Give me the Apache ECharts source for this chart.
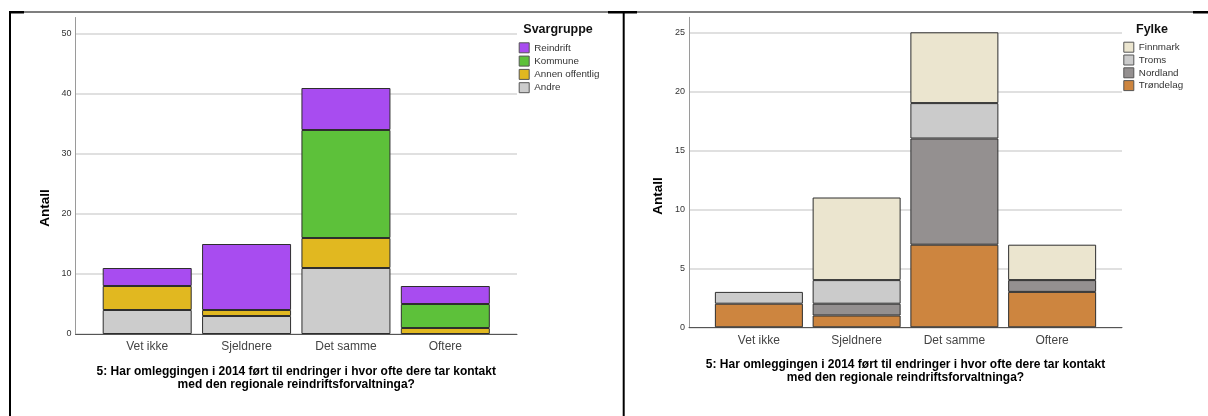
<!DOCTYPE html>
<html><head><meta charset="utf-8">
<script src="https://cdn.jsdelivr.net/npm/echarts@6/dist/echarts.min.js"></script>
<style>html,body{margin:0;padding:0;background:#fff;overflow:hidden}#c{width:1208px;height:416px}</style>
</head><body><div id="c"></div>
<script>
// ---- data ----
const categories = ['Vet ikke', 'Sjeldnere', 'Det samme', 'Oftere'];
const questionText = '5: Har omleggingen i 2014 ført til endringer i hvor ofte dere tar kontakt\nmed den regionale reindriftsforvaltninga?';
const yAxisTitle = 'Antall';

// Left panel: Svargruppe
const leftLegendTitle = 'Svargruppe';
const andre = [4, 3, 11, 0];
const annenOffentlig = [4, 1, 5, 1];
const kommune = [0, 0, 18, 4];
const reindrift = [3, 11, 7, 3];
const leftTickMax = 50, leftTickStep = 10;

// Right panel: Fylke
const rightLegendTitle = 'Fylke';
const trondelag = [2, 1, 7, 3];
const nordland = [0, 1, 9, 1];
const troms = [1, 2, 3, 0];
const finnmark = [0, 7, 6, 3];
const rightTickMax = 25, rightTickStep = 5;

// ---- chart ----
const F = "'Liberation Sans', Arial, Helvetica, sans-serif";
const W = 1208, H = 416;
const nz = a => a.map(v => (v === 0 ? null : v));

const grids = [], xAxes = [], yAxes = [], series = [], legends = [], titles = [], graphics = [];

function panel(p) {
  const gi = grids.length;
  const plotTop = p.y0 - p.tickMax * p.unitPx;
  const fullMax = (p.y0 - p.yTop) / p.unitPx;
  // G1: axis lines, tick labels, x-axis title
  grids.push({left: p.axL, right: W - p.axR, top: p.yTop, bottom: H - p.y0});
  xAxes.push({gridIndex: gi, type: 'value', min: 0, max: 1,
    axisLine: {show: true, lineStyle: {color: '#555', width: 1}},
    axisTick: {show: false}, axisLabel: {show: false}, splitLine: {show: false},
    name: questionText, nameLocation: 'middle', nameGap: p.nameGap,
    nameTextStyle: {fontFamily: F, fontSize: 12, fontWeight: 'bold', color: '#000', lineHeight: 12.6}});
  yAxes.push({gridIndex: gi, type: 'value', min: 0, max: fullMax, interval: p.step,
    axisLine: {show: true, lineStyle: {color: '#9a9a9a', width: 1}},
    axisTick: {show: false}, splitLine: {show: false},
    axisLabel: {fontFamily: F, fontSize: 9, color: '#333', margin: 4,
      formatter: v => (Math.abs(v % p.step) < 1e-6 && v <= p.tickMax ? String(v) : '')}});
  // G2: gridlines
  grids.push({left: p.axL, right: W - p.axR, top: plotTop, bottom: H - p.y0});
  xAxes.push({gridIndex: gi + 1, type: 'value', show: false, min: 0, max: 1});
  yAxes.push({gridIndex: gi + 1, type: 'value', min: 0, max: p.tickMax, interval: p.step,
    axisLine: {show: false}, axisTick: {show: false}, axisLabel: {show: false},
    splitLine: {show: true, lineStyle: {color: '#d6d6d6', width: 1.5}}});
  // G3: bars
  grids.push({left: p.catL, right: W - p.catR, top: plotTop, bottom: H - p.y0});
  xAxes.push({gridIndex: gi + 2, type: 'category', data: categories,
    axisLine: {show: false}, axisTick: {show: false},
    axisLabel: {fontFamily: F, fontSize: 12, color: '#444', margin: 7}});
  yAxes.push({gridIndex: gi + 2, type: 'value', min: 0, max: p.tickMax, show: false});
  p.series.forEach(s => {
    series.push({type: 'bar', name: s.name, stack: p.stack, xAxisIndex: gi + 2, yAxisIndex: gi + 2,
      barWidth: p.barW, data: nz(s.data),
      itemStyle: {color: s.color, borderColor: '#2e2e2e', borderWidth: 1},
      emphasis: {disabled: true}});
  });
  legends.push({data: p.series.map(s => s.name).reverse(), orient: 'vertical',
    left: p.legL, top: p.legT, itemWidth: 10, itemHeight: 10, itemGap: p.legGap,
    icon: 'rect', padding: 0, selectedMode: false,
    itemStyle: {borderColor: '#555', borderWidth: 1},
    textStyle: {fontFamily: F, fontSize: 9.8, color: '#333', lineHeight: 10}});
  titles.push({text: p.legTitle, left: p.legTitleL, top: p.legTitleT, padding: 0,
    textStyle: {fontFamily: F, fontSize: 12.5, fontWeight: 'bold', color: '#111', lineHeight: 14}});
  graphics.push({type: 'text', x: p.antX, y: p.antY, rotation: Math.PI / 2,
    style: {text: yAxisTitle, font: 'bold 13.5px ' + F, fill: '#000', textAlign: 'center', textVerticalAlign: 'middle'}});
}

panel({axL: 75.5, axR: 517, y0: 334, yTop: 17.5, unitPx: 6, tickMax: leftTickMax, step: leftTickStep,
  catL: 97.5, catR: 495, barW: 89, stack: 'L', nameGap: 31.5,
  legL: 518.7, legT: 42.3, legGap: 2.3, legTitle: leftLegendTitle, legTitleL: 523.3, legTitleT: 22.8,
  antX: 45.5, antY: 208,
  series: [
    {name: 'Andre', data: andre, color: '#cccccc'},
    {name: 'Annen offentlig', data: annenOffentlig, color: '#e1b820'},
    {name: 'Kommune', data: kommune, color: '#5dc13a'},
    {name: 'Reindrift', data: reindrift, color: '#a84cf0'}
  ]});

panel({axL: 689, axR: 1122, y0: 327.3, yTop: 17.3, unitPx: 11.8, tickMax: rightTickMax, step: rightTickStep,
  catL: 710, catR: 1101, barW: 88, stack: 'R', nameGap: 31,
  legL: 1123.3, legT: 41.7, legGap: 1.8, legTitle: rightLegendTitle, legTitleL: 1136, legTitleT: 22.8,
  antX: 658.5, antY: 196,
  series: [
    {name: 'Trøndelag', data: trondelag, color: '#cd853f'},
    {name: 'Nordland', data: nordland, color: '#949090'},
    {name: 'Troms', data: troms, color: '#cbcbcb'},
    {name: 'Finnmark', data: finnmark, color: '#ebe5cf'}
  ]});

// table border decorations
const blk = '#000';
graphics.push(
  {type: 'rect', shape: {x: 9, y: 11.5, width: W - 9, height: 1}, style: {fill: blk}},
  {type: 'rect', shape: {x: 9, y: 11, width: 15, height: 2.5}, style: {fill: blk}},
  {type: 'rect', shape: {x: 9, y: 11, width: 2, height: H - 11}, style: {fill: blk}},
  {type: 'rect', shape: {x: 608, y: 11, width: 29, height: 2.5}, style: {fill: blk}},
  {type: 'rect', shape: {x: 622.7, y: 11, width: 2, height: H - 11}, style: {fill: blk}},
  {type: 'rect', shape: {x: 1193, y: 11, width: 15, height: 2.5}, style: {fill: blk}}
);

const chart = echarts.init(document.getElementById('c'), null, {renderer: 'canvas', width: W, height: H});
chart.setOption({
  animation: false,
  backgroundColor: '#fff',
  title: titles,
  legend: legends,
  grid: grids,
  xAxis: xAxes,
  yAxis: yAxes,
  series: series,
  graphic: graphics
});
</script>
</body></html>
